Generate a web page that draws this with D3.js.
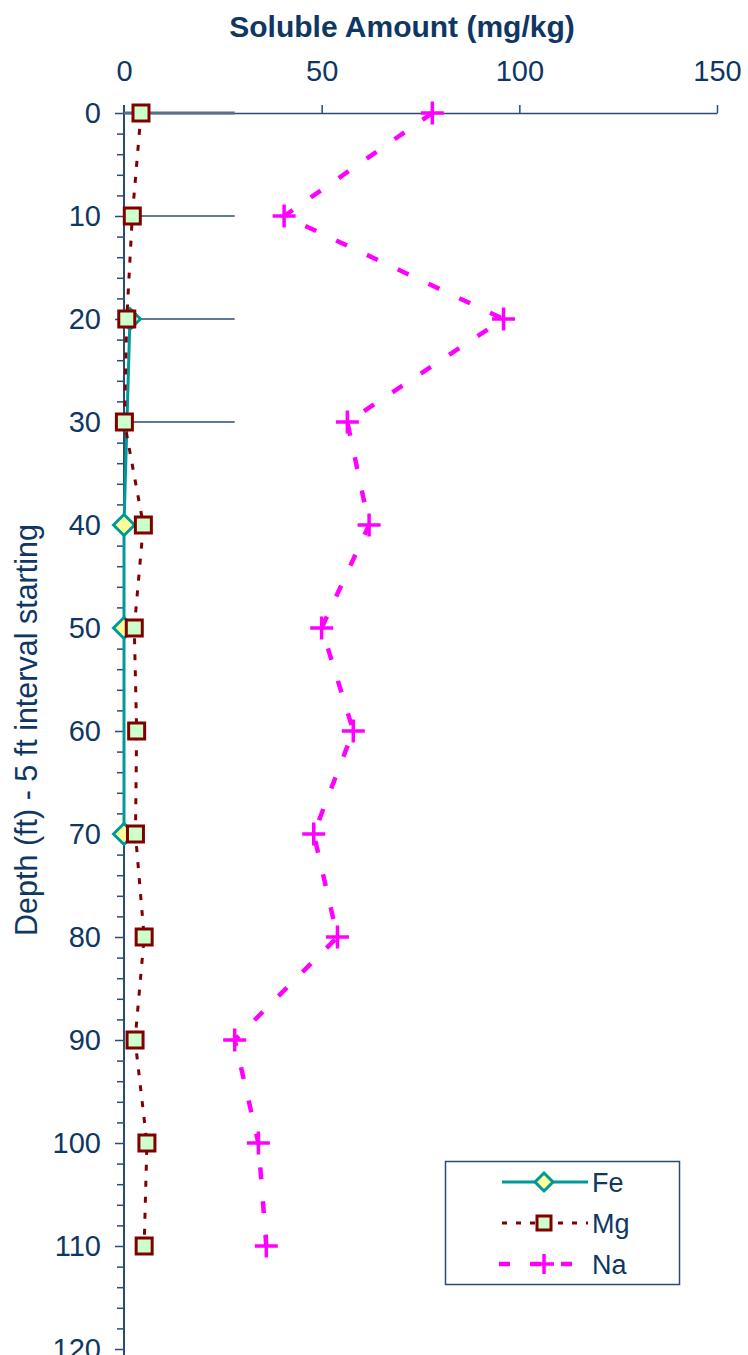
<!DOCTYPE html>
<html>
<head>
<meta charset="utf-8">
<script src="https://cdn.jsdelivr.net/npm/d3@7"></script>
<style>
  html, body { margin:0; padding:0; background:#fff; }
  svg text { font-family: Arial, "Liberation Sans", sans-serif; fill:#0f3763; }
</style>
</head>
<body>
<div id="chart"></div>
<script>
// depth profile of soluble ions
const DEPTHS = [0,10,20,30,40,50,60,70,80,90,100,110];
const FE = [null,null,1.5,null,0,0,null,0,null,null,null,null];
const MG = [4.3,2.1,0.7,0.1,4.9,2.6,3.2,2.9,5.1,2.8,5.8,5.1];
const NA = [78,40.5,96,56.5,62,50,58,48,54,28,34,36];
const X_TICKS = [0,50,100,150];
const Y_TICKS = [0,10,20,30,40,50,60,70,80,90,100,110,120];
const REF_DEPTHS = [0,10,20,30];   // short horizontal lines near the axis
const REF_EXTENT = 28;
const SERIES_NAMES = ["Fe","Mg","Na"];

(function() {
    const totalW = 748, totalH = 1355;
    const navy = "#2b4a75";

    const svg = d3.select("#chart").append("svg")
        .attr("width", totalW).attr("height", totalH);

    const x = d3.scaleLinear().domain([0,150]).range([124,717]);
    const y = d3.scaleLinear().domain([0,120]).range([113,1349]);

    // title + axis titles
    svg.append("text").attr("x",402).attr("y",37).attr("text-anchor","middle")
        .style("font-size","30px").style("font-weight","bold").text("Soluble Amount (mg/kg)");
    svg.append("text").attr("transform","translate(37,730) rotate(-90)")
        .attr("text-anchor","middle").style("font-size","30.5px")
        .text("Depth (ft) - 5 ft interval starting");

    // top axis
    const xAxis = svg.append("g").attr("transform",`translate(0,${y(0)})`)
        .call(d3.axisTop(x).tickValues(X_TICKS).tickSize(8).tickPadding(24).tickSizeOuter(0));
    xAxis.select(".domain").attr("stroke",navy).attr("stroke-width",1.5);
    xAxis.selectAll(".tick line").attr("stroke",navy).attr("stroke-width",1.5);
    xAxis.selectAll(".tick").filter(d => d===0).select("line").remove();
    xAxis.selectAll(".tick text").style("font-size","29px").attr("fill","#0f3763");

    // left axis, minor ticks every 2 ft
    const minor = d3.range(0,121,2).filter(d => d%10!==0);
    const yMinor = svg.append("g").attr("transform",`translate(${x(0)},0)`)
        .call(d3.axisLeft(y).tickValues(minor).tickSize(7).tickFormat("").tickSizeOuter(0));
    yMinor.select(".domain").remove();
    yMinor.selectAll(".tick line").attr("stroke",navy).attr("stroke-width",1.5);

    const yAxis = svg.append("g").attr("transform",`translate(${x(0)},0)`)
        .call(d3.axisLeft(y).tickValues(Y_TICKS).tickSize(9).tickPadding(14).tickSizeOuter(0));
    yAxis.select(".domain").attr("stroke",navy).attr("stroke-width",2)
        .attr("d",`M0,${y(0)-8}V${y(120)+10}`);
    yAxis.selectAll(".tick line").attr("stroke",navy).attr("stroke-width",1.5);
    yAxis.selectAll(".tick text").style("font-size","29px").attr("fill","#0f3763");

    // short reference lines
    svg.selectAll(".ref").data(REF_DEPTHS).enter().append("line")
        .attr("x1",x(0)).attr("x2",x(REF_EXTENT))
        .attr("y1",d=>y(d)).attr("y2",d=>y(d))
        .attr("stroke",d=>d===0?"#5d6f84":navy).attr("stroke-width",d=>d===0?3:1.5);

    const pts = vals => DEPTHS.map((d,i)=>({depth:d, v:vals[i]})).filter(p=>p.v!==null);
    const line = d3.line().x(p=>x(p.v)).y(p=>y(p.depth));

    const diamond = s => `M0,${-s}L${s},0L0,${s}L${-s},0Z`;
    const square = s => `M${-s},${-s}H${s}V${s}H${-s}Z`;
    const plus = s => `M${-s},0H${s}M0,${-s}V${s}`;

    const styles = {
        Fe: { vals:FE, stroke:"#009999", width:3, dash:null, mark:diamond(10.5), mfill:"#ffff99", mstroke:"#009999", mw:3 },
        Mg: { vals:MG, stroke:"#800000", width:3, dash:"6,10", mark:square(8), mfill:"#ccffcc", mstroke:"#800000", mw:3 },
        Na: { vals:NA, stroke:"#ff00ff", width:4.5, dash:"12,22", mark:plus(11.5), mfill:"none", mstroke:"#ff00ff", mw:3.5 }
    };

    SERIES_NAMES.forEach(name => {
        const s = styles[name];
        const data = pts(s.vals);
        svg.append("path").datum(data).attr("d",line).attr("fill","none")
            .attr("stroke",s.stroke).attr("stroke-width",s.width)
            .attr("stroke-dasharray",s.dash);
        svg.selectAll(".m-"+name).data(data).enter().append("path")
            .attr("transform",p=>`translate(${x(p.v)},${y(p.depth)})`)
            .attr("d",s.mark).attr("fill",s.mfill).attr("stroke",s.mstroke).attr("stroke-width",s.mw);
    });

    // legend
    const lg = svg.append("g");
    lg.append("rect").attr("x",445.5).attr("y",1161.5).attr("width",234).attr("height",123)
        .attr("fill","#fff").attr("stroke",navy).attr("stroke-width",1.5);
    SERIES_NAMES.forEach((name,i) => {
        const s = styles[name];
        const ly = 1182 + i*41;
        lg.append("line").attr("x1",name==="Na"?499:502).attr("x2",588).attr("y1",ly).attr("y2",ly)
            .attr("stroke",s.stroke).attr("stroke-width",s.width)
            .attr("stroke-dasharray",name==="Na"?"11,20":(name==="Mg"?"5,9":null));
        lg.append("path").attr("transform",`translate(544,${ly})`)
            .attr("d",name==="Fe"?diamond(9):(name==="Mg"?square(7):plus(10)))
            .attr("fill",s.mfill).attr("stroke",s.mstroke).attr("stroke-width",s.mw);
        lg.append("text").attr("x",592).attr("y",ly+9.5).style("font-size","27px").text(name);
    });
})();
</script>
</body>
</html>
